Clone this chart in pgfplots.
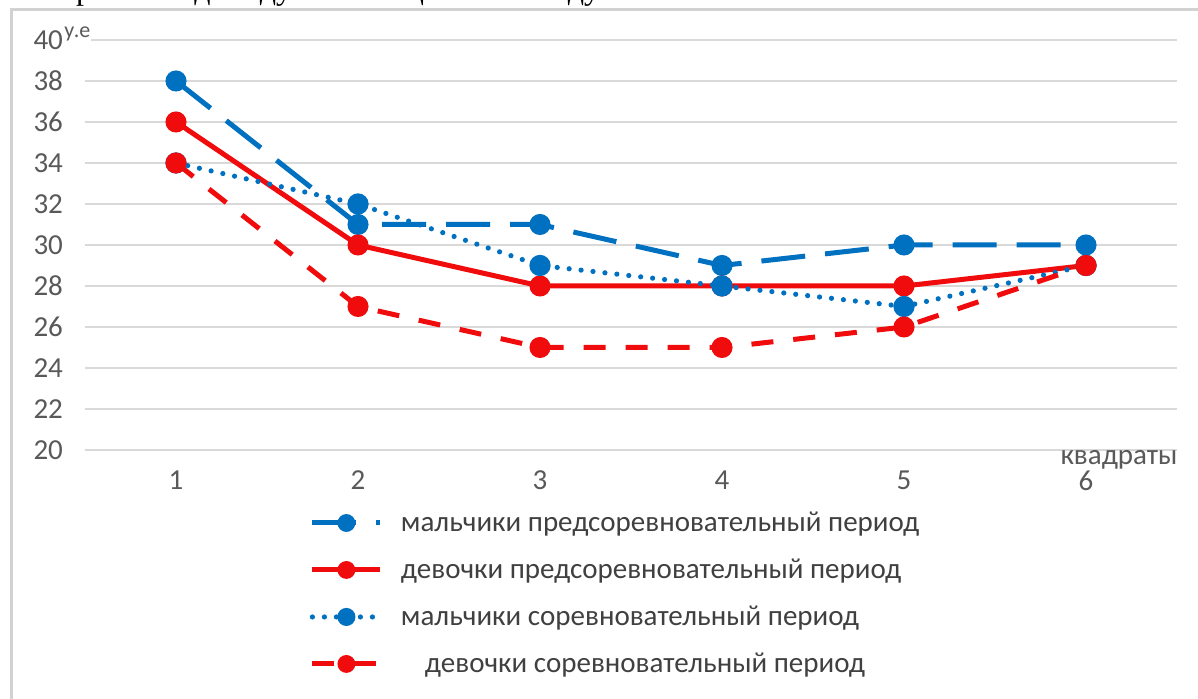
\documentclass[border=0pt]{standalone}
\usepackage{pgfplots}
\pgfplotsset{compat=1.18}
\usepackage{fontspec}
\setmainfont{Carlito}
\newfontfamily\seriffont{Liberation Serif}
\definecolor{myblue}{RGB}{0,112,192}
\definecolor{myred}{RGB}{240,12,12}
\definecolor{ticktext}{RGB}{89,89,89}
\definecolor{gridc}{RGB}{217,217,217}
\definecolor{legtext}{RGB}{64,64,64}
\definecolor{framec}{RGB}{210,210,210}
\begin{document}
\begin{tikzpicture}[x=0.5pt,y=0.5pt]
\useasboundingbox (0,0) rectangle (1198,699);
\clip (0,0) rectangle (1198,699);
\fill[white] (0,0) rectangle (1198,699);
\node[anchor=base east, font=\seriffont\fontsize{16}{19}\selectfont, inner sep=0pt] at (852,699) {Второе -- индивидуальная оценка исследуемых показателей.};
\draw[framec, line width=1.5pt] (11,-5) -- (11,689) -- (1260,689);
\begin{axis}[
  at={(42.5pt,124.5pt)}, anchor=south west,
  scale only axis, width=546pt, height=205pt,
  xmin=0.5, xmax=6.5, ymin=20, ymax=40,
  xtick={1,2,3,4,5,6}, ytick={20,22,...,40},
  ymajorgrids, grid style={gridc, line width=1pt},
  axis line style={draw=none}, major tick length=0pt,
  tick label style={font=\fontsize{14.5}{17}\selectfont, text=ticktext},
  /pgf/number format/assume math mode=true,
  yticklabel style={xshift=-7.5pt},
  xticklabel style={yshift=-7pt},
  clip=false,
  legend style={at={(0.2,-0.13)}, anchor=north west, draw=none, fill=none,
    font=\fontsize{14.5}{17}\selectfont, text=legtext, row sep=8.2pt,
    nodes={inner sep=2pt}},
  legend cell align=left,
  legend image code/.code={\draw[mark repeat=2,mark phase=2,#1,mark size=3.2pt] plot coordinates {(0pt,0pt) (17pt,0pt) (34pt,0pt)};},
]
\addplot[myblue, line width=2.5pt, dash pattern=on 22pt off 10pt, mark=*, mark size=4pt, mark options={solid}]
  coordinates {(1,38)(2,31)(3,31)(4,29)(5,30)(6,30)};
\addlegendentry{\hspace{7pt}мальчики предсоревновательный период}
\addplot[myred, line width=2.5pt, mark=*, mark size=4pt, mark options={solid}]
  coordinates {(1,36)(2,30)(3,28)(4,28)(5,28)(6,29)};
\addlegendentry{\hspace{7pt}девочки предсоревновательный период}
\addplot[myblue, line width=2.6pt, line cap=round, dash pattern=on 0pt off 6pt, mark=*, mark size=4pt, mark options={solid}]
  coordinates {(1,34)(2,32)(3,29)(4,28)(5,27)(6,29)};
\addlegendentry{\hspace{7pt}мальчики соревновательный период}
\addplot[myred, line width=2.5pt, dash pattern=on 11pt off 10pt, mark=*, mark size=4pt, mark options={solid}]
  coordinates {(1,34)(2,27)(3,25)(4,25)(5,26)(6,29)};
\addlegendentry{\hspace{19pt}девочки соревновательный период}
\end{axis}
\node[anchor=west, fill=white, inner sep=0.5pt, font=\fontsize{11}{13}\selectfont, text=ticktext] at (63,665) {у.е};
\node[font=\fontsize{14.5}{17}\selectfont, text=ticktext, inner sep=0pt] at (1119,239) {квадраты};
\end{tikzpicture}
\end{document}
